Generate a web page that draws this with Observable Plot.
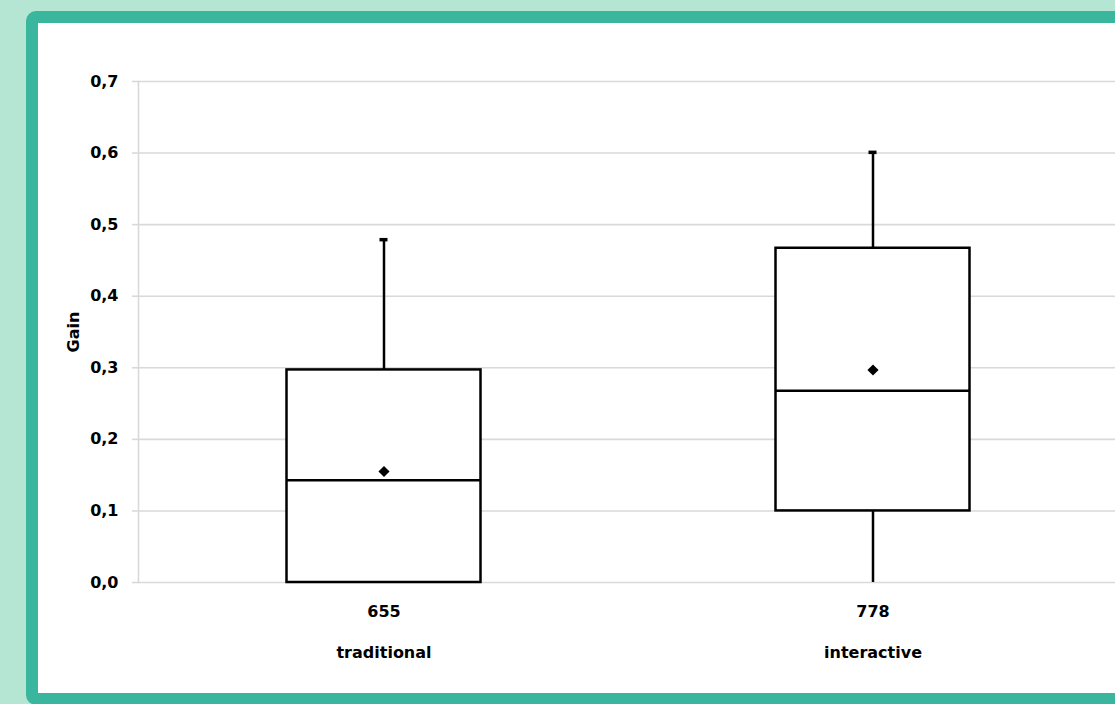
<!DOCTYPE html>
<html>
<head>
<meta charset="utf-8">
<script src="https://cdn.jsdelivr.net/npm/d3@7"></script>
<script src="https://cdn.jsdelivr.net/npm/@observablehq/plot@0.6"></script>
<style>
  html, body { margin: 0; padding: 0; width: 1115px; height: 704px; overflow: hidden; background: #b5e6d4; }
  #frame {
    position: absolute; left: 26px; top: 11px; width: 1200px; height: 670px;
    border: 12px solid #3ab59e; border-radius: 10px; background: #ffffff; overflow: hidden;
  }
  #chart { position: absolute; left: 0; top: 0; }
  svg { font-family: "DejaVu Sans", sans-serif; }
</style>
</head>
<body>
<div id="frame"><div id="chart"></div></div>
<script>
const groups  = ["traditional", "interactive"];
const counts  = [655, 778];
const mins    = [0, 0];
const q1s     = [0, 0.1];
const medians = [0.143, 0.268];
const means   = [0.155, 0.297];
const q3s     = [0.297, 0.467];
const maxs    = [0.479, 0.601];
const yTicks  = [0, 0.1, 0.2, 0.3, 0.4, 0.5, 0.6, 0.7];

const rows = groups.map((g, i) => ({
  group: g, n: counts[i], min: mins[i], q1: q1s[i], median: medians[i],
  mean: means[i], q3: q3s[i], max: maxs[i]
}));
const countOf = Object.fromEntries(rows.map(d => [d.group, d.n]));
const fmt = d => d3.format(".1f")(d).replace(".", ",");

const chart = Plot.plot({
  width: 1079,
  height: 670,
  marginLeft: 100,
  marginRight: 0,
  marginTop: 58,
  marginBottom: 111,
  style: { fontFamily: "DejaVu Sans, sans-serif", fontSize: "16px", fontWeight: "bold", color: "#000", background: "#fff" },
  x: { domain: groups, padding: 0, label: null },
  y: { domain: [0, 0.7], label: null },
  marks: [
    Plot.gridY(yTicks, { stroke: "#d9d9d9", strokeOpacity: 1, strokeWidth: 1.6 }),
    Plot.frame({ anchor: "left", stroke: "#d9d9d9", strokeWidth: 1.6 }),
    Plot.axisY(yTicks, {
      tickSize: 6, tickPadding: 14, stroke: "#d9d9d9", strokeWidth: 1.6,
      tickFormat: fmt, fill: "#000",
      label: "Gain", labelAnchor: "center", labelArrow: "none", labelOffset: 71
    }),
    Plot.axisX({ tickSize: 0, tickPadding: 23, tickFormat: d => String(countOf[d]), label: null, fill: "#000" }),
    Plot.axisX({ tickSize: 0, tickPadding: 64, tickFormat: d => d, label: null, fill: "#000" }),
    Plot.ruleX(rows, { x: "group", y1: "q3", y2: "max", stroke: "#000", strokeWidth: 2.5 }),
    Plot.ruleX(rows, { x: "group", y1: "min", y2: "q1", stroke: "#000", strokeWidth: 2.5 }),
    Plot.tickY(rows, { x: "group", y: "max", stroke: "#000", strokeWidth: 3.5, insetLeft: 240.5, insetRight: 240.5 }),
    Plot.barY(rows, { x: "group", y1: "q1", y2: "q3", fill: "#fff", stroke: "#000", strokeWidth: 2.5, insetLeft: 147.5, insetRight: 147.5 }),
    Plot.tickY(rows, { x: "group", y: "median", stroke: "#000", strokeWidth: 2.5, insetLeft: 147.5, insetRight: 147.5 }),
    Plot.dot(rows, { x: "group", y: "mean", symbol: "diamond2", fill: "#000", stroke: "none", r: 5 })
  ]
});
document.getElementById("chart").appendChild(chart);
</script>
</body>
</html>
